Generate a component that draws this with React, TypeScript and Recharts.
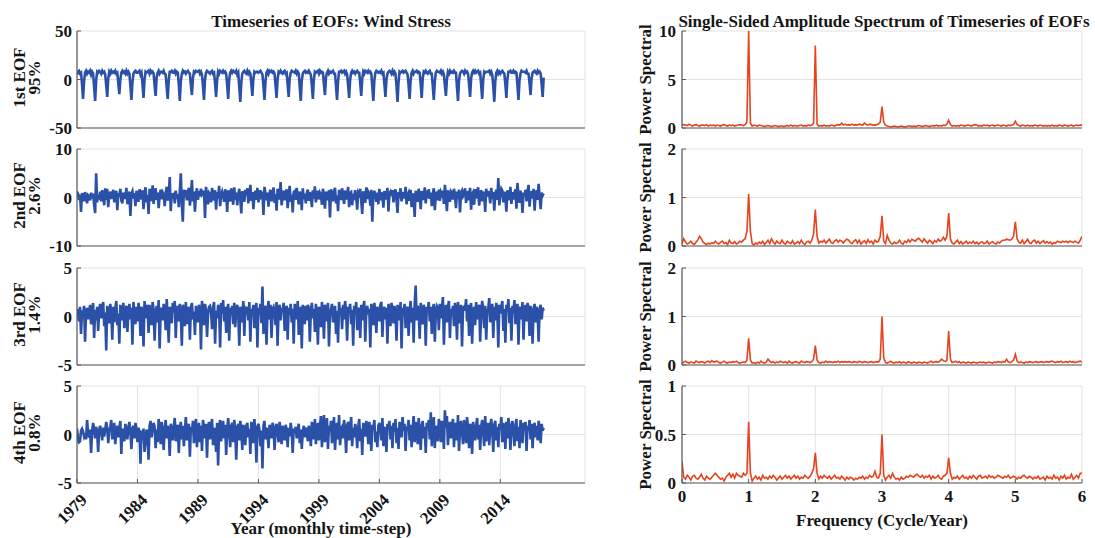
import React from 'react';
import { LineChart, Line, XAxis, YAxis, CartesianGrid } from 'recharts';

const FONT = '"Liberation Serif", "Times New Roman", Times, serif';
const BLUE = '#2b50a8';
const RED = '#e6431f';
const BOX = '#5a5a5a';
const GRID = '#e2e2e2';

// ---------- data ----------
const START_YEAR = 1979;
const yearTicks = [1979, 1984, 1989, 1994, 1999, 2004, 2009, 2014];
const freqTicks = [0, 1, 2, 3, 4, 5, 6];
const BINS_PER_CYCLE = 38; // spectral bins per cycle/year

const eofLabels = [
  ['1st EOF', '95%'],
  ['2nd EOF', '2.6%'],
  ['3rd EOF', '1.4%'],
  ['4th EOF', '0.8%'],
];

// monthly values, one row per year (1979 ... 2017)
const eof1 = [
  5, 8, 9, 6, 7, -5, -20, -2, 7, 9, 6, 8,
  7, 9, 5, 8, 6, -8, -22, -1, 8, 7, 9, 8,
  6, 9, 7, 8, 5, -6, -18, 1, 8, 6, 9, 7,
  8, 7, 9, 6, 7, -4, -15, 0, 7, 9, 7, 8,
  6, 9, 6, 8, 6, -7, -21, -3, 6, 8, 9, 7,
  7, 8, 9, 5, 7, -5, -19, 0, 8, 7, 8, 9,
  6, 9, 7, 8, 6, -6, -17, 2, 7, 9, 6, 8,
  8, 7, 9, 6, 5, -8, -20, -1, 8, 8, 9, 7,
  7, 9, 6, 8, 7, -5, -22, -2, 6, 9, 7, 8,
  6, 8, 9, 7, 6, -6, -16, 1, 8, 7, 9, 8,
  8, 9, 6, 8, 5, -7, -21, 0, 7, 9, 8, 7,
  6, 8, 9, 6, 7, -4, -18, -1, 8, 6, 9, 8,
  7, 9, 7, 8, 6, -6, -20, 0, 7, 9, 7, 9,
  8, 7, 9, 5, 7, -8, -23, -3, 6, 8, 9, 7,
  6, 9, 6, 8, 6, -5, -17, 1, 8, 7, 8, 8,
  7, 8, 9, 7, 5, -7, -21, -2, 7, 9, 6, 9,
  8, 9, 7, 8, 6, -6, -19, 0, 8, 7, 9, 7,
  6, 8, 9, 6, 7, -5, -18, 1, 7, 9, 8, 8,
  7, 9, 6, 8, 6, -8, -22, -1, 6, 8, 9, 7,
  8, 7, 9, 7, 5, -6, -20, 0, 8, 7, 8, 9,
  6, 9, 7, 8, 7, -5, -16, 2, 7, 9, 6, 8,
  7, 8, 9, 6, 6, -7, -21, -2, 8, 8, 9, 7,
  8, 9, 6, 8, 5, -6, -19, 0, 7, 9, 7, 8,
  6, 8, 9, 7, 7, -4, -17, 1, 8, 6, 9, 8,
  7, 9, 7, 8, 6, -8, -22, -1, 7, 9, 8, 7,
  8, 7, 9, 6, 7, -5, -18, 0, 6, 8, 9, 8,
  6, 9, 6, 8, 6, -7, -23, -3, 8, 7, 8, 9,
  7, 8, 9, 7, 5, -6, -20, -1, 7, 9, 6, 8,
  8, 9, 7, 8, 7, -5, -19, 1, 8, 7, 9, 7,
  6, 8, 9, 6, 6, -7, -21, -2, 7, 9, 8, 8,
  7, 9, 6, 8, 5, -6, -17, 0, 8, 6, 9, 7,
  8, 7, 9, 7, 7, -8, -22, -1, 6, 8, 9, 8,
  6, 9, 7, 8, 6, -5, -18, 1, 7, 9, 7, 9,
  7, 8, 9, 6, 7, -6, -20, 0, 8, 7, 8, 8,
  8, 9, 6, 8, 5, -7, -23, -2, 7, 9, 6, 8,
  6, 8, 9, 7, 6, -5, -19, 0, 8, 8, 9, 7,
  7, 9, 7, 8, 7, -6, -21, -1, 6, 9, 8, 8,
  8, 7, 9, 6, 6, -4, -16, 1, 7, 8, 9, 7,
  6, 9, 7, 8, 6, -5, -18, 2,
];

const eof2 = [
  1.2, 0.8, -0.5, 0.6, -3.0, 0.9, 0.4, -0.8, 1.1, 0.2, -1.2, 0.5,
  0.3, -0.6, 1.0, -0.2, 0.8, -1.5, -3.2, 5.0, -1.0, 0.6, -0.4, 1.2,
  -0.8, 1.5, 0.4, -1.6, 1.9, -0.5, 1.8, -2.0, 0.6, 1.2, -0.3, 0.8,
  1.6, -1.0, 0.5, 1.4, -2.6, 0.9, 0.2, 1.8, -0.6, -1.2, 1.0, 0.4,
  -0.3, 2.0, -1.4, 0.6, 1.2, -3.8, 0.8, 1.3, -0.2, 0.9, -1.8, 1.4,
  0.6, -0.9, 1.7, 0.3, -0.4, 1.5, -2.4, 0.7, 2.1, -1.0, 0.5, -3.4,
  1.8, 0.2, -0.7, 2.5, -1.3, 0.6, 1.9, -0.5, 1.0, -2.2, 0.4, 1.6,
  -0.4, 1.1, 0.7, -1.8, 0.9, 2.2, -0.6, 0.5, 4.2, -2.8, 0.8, 0.3,
  0.6, -1.2, 1.4, -0.3, 0.7, -2.0, 1.2, 5.0, -1.5, -5.0, 1.6, 0.8,
  1.5, -0.6, 0.9, 2.0, -1.7, 0.4, 3.6, -0.8, 1.2, -2.9, 0.7, 1.9,
  -0.5, 1.3, 0.2, 1.8, 0.6, 0.9, 1.4, -4.2, 2.2, 0.3, -1.4, 1.0,
  0.7, -1.0, 2.0, 0.4, -0.6, 1.5, -2.5, 1.1, -0.2, 2.4, -1.8, 0.5,
  1.2, 0.3, -0.9, 1.7, 0.8, -3.0, 1.5, 0.2, -0.8, 1.9, 0.6, -1.5,
  2.1, -0.4, 1.0, -1.6, 0.5, 1.8, -0.3, -3.3, 1.3, 0.7, -0.9, 1.6,
  0.4, 1.9, -1.2, 0.8, 2.6, -0.7, 1.1, -2.4, 0.3, 1.4, -0.5, 2.0,
  -1.0, 0.6, 1.5, -0.4, 1.2, -3.6, 2.2, 0.8, -0.6, 1.0, -1.9, 0.9,
  1.6, -0.8, 0.4, 2.1, -1.1, 0.7, -2.7, 1.8, 0.5, -0.4, 3.2, -1.6,
  0.2, 1.4, -0.6, 0.9, 1.7, -2.2, 0.3, 2.4, -0.9, 0.6, -3.1, 1.1,
  1.3, -0.5, 2.0, 0.1, -1.4, 1.2, 0.6, -2.6, 1.9, -0.3, 0.8, -1.2,
  0.9, 1.6, -0.7, 1.1, 0.4, -2.0, 1.5, -0.2, 2.3, -1.0, 0.5, 1.4,
  -0.4, 1.0, 0.6, -1.5, 1.8, 0.2, -2.3, 1.2, 0.7, -0.6, 1.5, -4.1,
  1.7, 0.5, -0.8, 1.3, 2.0, -1.2, 0.4, -2.8, 1.6, 0.3, -0.5, 1.9,
  0.6, -1.3, 1.4, 0.8, -0.4, 2.2, -2.0, 0.9, 1.1, -1.6, 0.7, 0.2,
  1.5, 0.1, -2.5, 1.0, 0.6, 1.8, -0.7, -3.4, 1.3, 0.4, -1.1, 2.1,
  -0.3, 1.2, 0.8, -1.7, 1.6, -5.0, 0.6, 1.4, 0.5, -0.9, 1.0, -1.4,
  1.8, -0.6, 1.1, 0.4, -2.1, 1.3, 0.7, -0.4, 2.0, -2.9, 0.8, 1.2,
  0.3, 1.5, -1.0, 0.9, 1.7, -0.5, -3.2, 1.1, 0.6, 1.9, -0.8, 0.4,
  1.1, -0.2, 2.2, -1.4, 0.5, 1.0, -0.7, 1.6, -2.0, 0.8, 0.3, -4.0,
  1.4, 0.6, -0.9, 1.8, 0.2, -2.4, 1.3, 0.7, -0.5, 2.1, -1.2, 0.9,
  0.5, 1.7, -0.3, 1.0, -1.8, 0.8, 1.9, -2.6, 0.4, 1.2, -0.6, 1.6,
  -0.7, 1.1, 0.6, 1.4, -1.3, 2.6, 0.3, -2.8, 1.5, 0.2, -0.9, 1.3,
  1.0, -0.4, 1.8, 0.5, -2.2, 1.2, -0.2, 1.6, -3.1, 0.9, 1.4, 0.3,
  0.8, 1.9, -1.1, 0.6, 1.3, -0.6, 2.0, -2.5, 0.7, 1.1, -1.5, 1.7,
  -0.2, 1.0, 2.1, -1.7, 0.4, 1.5, -0.8, 1.2, 0.6, -3.0, 1.8, 0.2,
  1.3, 0.5, -1.2, 2.0, -0.3, 1.1, -2.7, 0.8, 1.6, -0.5, 4.0, -1.6,
  0.6, 1.8, 1.4, -1.0, 1.2, 0.3, -2.9, 1.5, 0.7, -0.6, 2.2, -1.3,
  1.1, -0.4, 0.9, 1.7, -2.3, 3.0, 0.5, -1.1, 1.4, 0.2, -3.2, 1.0,
  0.4, 1.6, -0.8, 1.2, 2.6, -1.9, 0.7, 1.3, -0.2, 1.8, -2.7, 0.6,
  1.5, -0.5, 2.8, 0.3, -2.4, 1.0, 0.4, 0.8,
];

const eof3 = [
  0.8, 0.3, -0.5, 1.0, -1.8, 0.6, 0.2, 1.1, -2.6, 0.4, 0.9, -0.3,
  0.5, 1.2, -0.8, 0.3, 1.4, -2.2, 0.7, -0.4, 1.0, -1.5, 0.6, 1.3,
  -0.2, 0.9, 1.5, -1.0, 0.4, -3.5, 1.1, 0.2, -0.7, 1.3, 0.5, -2.4,
  1.0, -0.6, 0.8, 1.6, -0.9, 0.3, -2.8, 1.2, 0.6, -0.4, 1.4, -1.2,
  0.7, 1.1, -1.6, 0.5, 1.3, -0.3, 0.9, -2.9, 1.5, 0.2, -0.8, 1.0,
  -0.5, 1.4, 0.6, -2.0, 1.0, 0.4, -3.1, 1.6, -0.2, 0.8, 1.2, -1.7,
  1.2, 0.1, -0.9, 1.5, 0.7, -2.5, 0.3, 1.1, -0.6, 1.7, -3.3, 0.6,
  0.9, -0.4, 1.3, 0.5, -1.4, 1.8, -0.1, -2.7, 1.0, 0.6, -0.7, 1.4,
  0.4, 1.6, -2.2, 0.8, 1.1, -0.5, 1.3, 0.2, -3.0, 1.2, 0.7, -1.0,
  1.5, -0.8, 0.6, 1.0, -2.4, 0.9, 1.4, -0.3, 0.5, -1.9, 1.1, 0.3,
  -0.6, 1.2, 0.8, -3.4, 1.6, 0.4, -0.9, 1.3, 0.7, -2.1, 0.2, 1.0,
  1.1, 0.5, -1.3, 0.9, 1.5, -2.8, 0.6, -0.2, 1.2, 0.8, -3.2, 1.4,
  0.3, 1.7, -0.5, 1.0, -1.7, 0.6, 1.3, -2.5, 0.9, 0.4, 1.1, -0.8,
  1.4, -1.1, 0.7, 1.2, 0.2, -3.0, 1.0, 0.5, -0.6, 1.6, -2.0, 0.8,
  0.6, 1.0, -0.4, 1.5, -2.6, 0.8, 0.3, 1.2, -1.2, 0.7, 1.4, -3.2,
  0.9, 0.4, 1.3, -0.7, 3.1, -1.8, 0.6, 1.1, -2.9, 0.5, 1.6, -0.3,
  1.2, -2.2, 0.8, 1.0, 0.3, -0.9, 1.5, -3.0, 0.7, 1.2, -0.4, 0.9,
  0.5, 1.4, -1.5, 0.6, 1.1, -2.4, 0.9, 0.2, 1.3, -0.6, 0.8, -2.8,
  1.3, 0.7, -0.3, 1.6, -1.9, 0.4, 1.0, -3.3, 1.2, 0.6, -0.8, 1.1,
  -0.4, 1.2, 0.9, -2.6, 0.5, 1.4, -0.2, 0.8, -1.6, 1.3, 0.3, -2.9,
  1.0, 0.6, -1.1, 1.5, 0.2, -2.3, 1.2, 0.7, -0.5, 1.4, -3.1, 0.4,
  0.8, 1.3, -0.6, 0.4, 1.1, -1.8, 0.6, -2.7, 1.5, 0.3, 0.9, -1.3,
  1.2, -0.3, 1.6, 0.5, -2.5, 1.0, 0.4, 1.3, -0.8, 0.7, -3.0, 1.1,
  0.3, 1.5, -1.4, 0.9, 0.6, -2.2, 1.2, -0.4, 1.0, 1.6, -2.6, 0.5,
  1.1, 0.2, 0.8, -3.2, 1.3, 0.7, -0.9, 1.4, 0.4, -1.7, 1.0, 0.6,
  -0.5, 1.2, 1.5, -2.1, 0.6, 1.0, -0.3, 0.9, -2.8, 1.3, 0.5, -1.0,
  1.4, 0.8, -0.7, 1.1, 0.3, -2.5, 1.2, 0.6, -0.4, 1.5, -3.3, 0.9,
  0.5, 1.3, -1.2, 0.7, 1.0, -2.0, 0.4, 1.6, -0.6, 0.9, -2.7, 1.2,
  3.2, -0.4, 1.1, 0.6, -2.3, 1.4, 0.3, -0.8, 1.2, 0.7, -3.0, 1.0,
  0.6, 1.5, -0.5, 1.0, -1.8, 0.8, 1.3, -2.6, 0.4, 1.1, 0.9, -1.4,
  1.3, -0.2, 0.7, 2.0, -2.9, 0.5, 1.2, -0.6, 1.0, 1.6, -2.2, 0.8,
  0.4, 1.1, -1.0, 1.4, 0.6, -2.4, 1.5, 0.2, -0.7, 1.2, -3.1, 0.9,
  1.0, 0.6, 1.8, -0.5, 1.2, -2.0, 0.7, 1.4, -2.8, 0.3, 1.0, -0.9,
  1.5, -0.3, 0.9, 1.2, -2.6, 0.4, 1.6, 0.7, -1.2, 1.1, -2.4, 0.5,
  0.8, 1.9, -0.6, 0.5, 1.3, -2.2, 1.0, -0.4, 1.4, 0.6, -3.2, 1.2,
  0.3, 1.0, 1.6, -1.5, 0.8, -2.7, 1.2, 0.5, 1.8, -0.7, 0.9, -2.5,
  1.1, 0.4, 1.7, -0.8, 0.6, 1.3, -2.9, 0.7, 1.0, -0.3, 1.5, -2.4,
  0.6, 1.2, -0.5, 1.4, 0.9, -2.0, 1.1, 0.3, -2.8, 0.8, 1.3, -0.6,
  1.0, 0.4, -2.6, 0.8, 1.2, -0.3, 0.9, 0.6,
];

const eof4 = [
  0.6, -0.5, -0.8, -0.7, 0.4, 0.6, 0.3, -0.2, 0.1, -0.5, 1.5, 0.2,
  -0.3, 0.5, -1.9, 0.4, 1.2, 0.6, -0.4, 0.8, 0.2, -1.8, 0.5, 0.9,
  0.3, -0.6, 0.7, -0.2, 0.5, 1.3, 0.6, -0.9, 0.4, 0.8, 1.5, -0.5,
  0.2, 1.2, -1.0, 0.5, 0.9, -0.3, 0.7, 1.4, -2.0, 0.6, 0.3, -0.7,
  1.1, 0.4, -0.5, 0.8, 1.3, 0.2, -1.5, 0.6, 0.9, -0.4, 1.2, 0.5,
  -0.8, 0.7, 0.3, -3.0, 0.4, -0.5, 0.6, -1.8, -0.9, 0.5, 0.2, -2.6,
  0.9, 1.4, -0.3, 0.6, 1.2, 0.8, -1.4, 0.5, -0.8, 1.6, 0.4, -1.0,
  1.3, 0.2, -1.6, 0.7, 1.5, -0.4, 0.9, 0.3, -2.2, 1.1, 0.6, -0.6,
  0.8, 1.7, -0.7, 0.4, 1.0, -1.9, 0.6, 1.3, -0.5, 0.9, -1.2, 0.4,
  1.8, -0.6, 0.5, 1.1, -2.3, 0.8, 0.2, 1.4, -0.9, 0.7, 1.6, -1.3,
  0.4, 1.2, -0.8, 0.9, -1.7, 1.5, 0.6, -0.4, 1.1, -2.4, 0.8, 1.3,
  -0.5, 0.9, 1.6, -1.1, 0.7, 0.3, -1.8, 1.2, -3.2, 0.6, 1.5, -0.7,
  0.8, 1.4, -0.4, 1.0, -2.1, 0.5, 1.7, 0.2, -1.3, 0.9, 1.2, -0.8,
  1.5, 0.3, -2.6, 0.8, 1.1, -0.6, 1.4, 0.5, -1.6, 1.0, 0.4, -1.1,
  0.9, 1.2, -0.3, 0.6, -2.0, 1.3, 0.7, -0.9, 1.6, 0.2, -2.9, 0.8,
  1.1, 0.5, -1.2, 0.4, -3.5, 0.9, 1.4, -0.5, 0.7, 0.3, -1.4, 1.0,
  0.6, -0.4, 1.2, 0.8, -1.6, 0.5, 1.1, 0.2, -0.8, 1.3, 0.4, -1.0,
  0.9, 0.3, -0.6, 1.0, 0.5, -1.3, 0.7, -0.2, 1.2, 0.4, -1.9, 0.6,
  0.2, 0.8, -0.4, 0.6, 1.1, -0.9, 0.5, -1.5, 0.3, 0.9, -0.3, 0.7,
  0.4, -0.7, 0.9, 0.2, -1.2, 1.3, 0.6, -0.5, 1.6, -1.0, 0.4, 1.2,
  -0.6, 0.8, 1.9, -1.3, 0.5, 2.0, -0.8, 0.6, 1.7, -1.5, 0.9, 0.3,
  1.4, -0.9, 0.7, 1.8, -1.6, 0.4, 1.2, -0.5, 2.0, -1.1, 0.6, 0.8,
  -0.4, 1.5, 0.3, -1.9, 0.9, 1.3, -0.6, 0.5, 1.8, -1.2, 0.7, -0.3,
  1.1, 0.4, -1.4, 0.8, 1.6, -0.7, 0.6, -2.1, 1.2, 0.5, -0.2, 1.4,
  0.7, -1.0, 1.3, 0.4, -1.7, 1.0, 0.6, 1.5, -0.8, 0.3, -1.3, 0.9,
  1.2, 0.5, -0.6, 1.7, -1.2, 0.8, 0.4, -1.8, 1.1, 0.6, 1.4, -0.5,
  0.9, -1.4, 1.2, 0.3, 1.6, -0.9, 0.7, -1.5, 1.3, 0.5, -0.3, 1.8,
  0.4, 1.1, -1.7, 0.8, 0.5, 1.5, -0.6, 1.0, -1.3, 0.7, 1.9, -0.8,
  1.3, 0.6, -1.0, 1.7, 0.3, -1.6, 0.9, 1.4, -0.4, 0.8, -1.9, 1.2,
  0.7, 1.5, -0.5, 2.3, -1.2, 0.6, 1.8, -1.4, 0.9, 0.4, -0.7, 1.6,
  1.0, -0.8, 1.4, 0.5, -1.5, 2.5, 0.7, 1.9, -1.1, 0.6, 1.3, -0.4,
  0.8, 1.6, -1.3, 0.9, 1.2, -0.6, 2.0, -1.7, 0.5, 1.4, 0.3, -1.0,
  1.5, 0.4, -0.9, 1.8, 0.6, -1.4, 1.1, 0.7, -2.0, 1.3, 0.5, -0.6,
  0.9, 1.7, -0.5, 1.0, -1.6, 0.8, 1.5, 0.3, -1.2, 1.9, -0.7, 0.6,
  1.2, -1.1, 0.7, 1.6, 0.4, -1.8, 1.0, 1.4, -0.6, 0.8, -1.3, 1.1,
  0.5, 1.8, -0.8, 1.2, 0.6, -1.5, 1.3, -0.4, 1.7, 0.9, -1.6, 0.7,
  1.4, 0.3, -1.2, 1.0, 1.6, -0.7, 0.8, -1.4, 1.5, 0.6, -0.9, 1.2,
  0.6, 1.3, -1.7, 0.9, 0.4, 1.5, -0.5, 1.1, -1.4, 0.7, 1.2, -0.3,
  0.9, -0.6, 1.4, 0.5, -0.9, 1.1, 0.4, 0.7,
];

// amplitude spectra, bins of 1/38 cycle/year from 0 to 6 (19 bins per row)
const spec1 = [
  0.3, 0.35, 0.3, 0.25, 0.4, 0.3, 0.2, 0.3, 0.35, 0.25, 0.2, 0.3, 0.3, 0.25, 0.35, 0.2, 0.3, 0.25, 0.3,
  0.2, 0.3, 0.25, 0.2, 0.3, 0.35, 0.25, 0.2, 0.3, 0.25, 0.3, 0.2, 0.25, 0.3, 0.35, 0.3, 0.25, 0.35, 0.6,
  10, 0.5, 0.2, 0.3, 0.25, 0.2, 0.3, 0.25, 0.2, 0.15, 0.2, 0.25, 0.2, 0.15, 0.2, 0.25, 0.2, 0.15, 0.2,
  0.2, 0.15, 0.2, 0.25, 0.2, 0.3, 0.2, 0.25, 0.2, 0.2, 0.25, 0.3, 0.2, 0.25, 0.2, 0.3, 0.25, 0.3, 0.5,
  8.5, 0.4, 0.2, 0.25, 0.2, 0.3, 0.2, 0.25, 0.2, 0.3, 0.25, 0.2, 0.3, 0.35, 0.3, 0.5, 0.3, 0.4, 0.3,
  0.35, 0.3, 0.4, 0.3, 0.35, 0.3, 0.4, 0.35, 0.3, 0.5, 0.35, 0.3, 0.4, 0.35, 0.3, 0.3, 0.35, 0.4, 0.6,
  2.2, 0.6, 0.3, 0.2, 0.15, 0.1, 0.15, 0.2, 0.15, 0.1, 0.15, 0.2, 0.15, 0.1, 0.15, 0.2, 0.2, 0.15, 0.2,
  0.15, 0.2, 0.25, 0.2, 0.15, 0.2, 0.25, 0.2, 0.15, 0.2, 0.25, 0.2, 0.3, 0.2, 0.25, 0.2, 0.3, 0.25, 0.4,
  0.8, 0.35, 0.2, 0.25, 0.2, 0.25, 0.2, 0.3, 0.25, 0.2, 0.25, 0.3, 0.25, 0.2, 0.3, 0.35, 0.3, 0.2, 0.25,
  0.2, 0.3, 0.25, 0.3, 0.2, 0.25, 0.3, 0.2, 0.25, 0.3, 0.25, 0.2, 0.3, 0.25, 0.2, 0.3, 0.25, 0.3, 0.35,
  0.7, 0.35, 0.25, 0.2, 0.3, 0.25, 0.2, 0.3, 0.2, 0.25, 0.2, 0.3, 0.25, 0.2, 0.3, 0.25, 0.2, 0.25, 0.2,
  0.25, 0.2, 0.3, 0.2, 0.25, 0.2, 0.3, 0.25, 0.2, 0.3, 0.25, 0.2, 0.25, 0.3, 0.2, 0.25, 0.3, 0.25, 0.3,
  0.3,
];

const spec2 = [
  0.05, 0.15, 0.08, 0.04, 0.06, 0.1, 0.05, 0.03, 0.08, 0.12, 0.2, 0.15, 0.08, 0.05, 0.03, 0.06, 0.04, 0.07, 0.05,
  0.1, 0.06, 0.04, 0.08, 0.1, 0.05, 0.07, 0.03, 0.12, 0.06, 0.05, 0.09, 0.04, 0.06, 0.1, 0.08, 0.12, 0.15, 0.3,
  1.07, 0.3, 0.05, 0.02, 0.06, 0.04, 0.08, 0.05, 0.1, 0.03, 0.07, 0.12, 0.05, 0.15, 0.08, 0.04, 0.1, 0.06, 0.05,
  0.12, 0.06, 0.04, 0.1, 0.07, 0.05, 0.11, 0.04, 0.06, 0.09, 0.05, 0.12, 0.06, 0.03, 0.08, 0.1, 0.06, 0.12, 0.25,
  0.75, 0.2, 0.06, 0.1, 0.08, 0.12, 0.06, 0.1, 0.14, 0.07, 0.05, 0.1, 0.13, 0.08, 0.12, 0.1, 0.06, 0.11, 0.14,
  0.12, 0.07, 0.05, 0.1, 0.13, 0.06, 0.12, 0.04, 0.08, 0.11, 0.05, 0.13, 0.07, 0.1, 0.04, 0.12, 0.08, 0.1, 0.2,
  0.62, 0.1, 0.05, 0.22, 0.12, 0.06, 0.04, 0.08, 0.05, 0.07, 0.12, 0.06, 0.04, 0.1, 0.07, 0.13, 0.08, 0.14, 0.12,
  0.1, 0.14, 0.16, 0.12, 0.08, 0.15, 0.1, 0.06, 0.12, 0.09, 0.05, 0.11, 0.08, 0.14, 0.1, 0.12, 0.18, 0.12, 0.2,
  0.68, 0.15, 0.06, 0.04, 0.08, 0.12, 0.05, 0.09, 0.04, 0.07, 0.1, 0.05, 0.08, 0.06, 0.1, 0.05, 0.08, 0.04, 0.07,
  0.09, 0.05, 0.06, 0.1, 0.04, 0.07, 0.09, 0.06, 0.04, 0.08, 0.06, 0.1, 0.12, 0.12, 0.14, 0.13, 0.12, 0.14, 0.2,
  0.5, 0.15, 0.08, 0.06, 0.12, 0.05, 0.09, 0.14, 0.07, 0.05, 0.1, 0.12, 0.06, 0.1, 0.05, 0.08, 0.11, 0.06, 0.09,
  0.06, 0.08, 0.04, 0.07, 0.06, 0.1, 0.08, 0.07, 0.1, 0.08, 0.1, 0.07, 0.1, 0.09, 0.07, 0.1, 0.08, 0.06, 0.12,
  0.2,
];

const spec3 = [
  0.03, 0.06, 0.08, 0.05, 0.04, 0.06, 0.05, 0.04, 0.08, 0.06, 0.05, 0.07, 0.06, 0.04, 0.07, 0.08, 0.05, 0.09, 0.06,
  0.07, 0.08, 0.05, 0.04, 0.06, 0.08, 0.05, 0.04, 0.06, 0.05, 0.07, 0.06, 0.08, 0.05, 0.04, 0.05, 0.06, 0.05, 0.1,
  0.55, 0.1, 0.04, 0.05, 0.03, 0.06, 0.04, 0.08, 0.05, 0.04, 0.06, 0.12, 0.08, 0.05, 0.07, 0.04, 0.06, 0.05, 0.08,
  0.06, 0.05, 0.07, 0.04, 0.08, 0.05, 0.04, 0.06, 0.07, 0.05, 0.04, 0.08, 0.06, 0.05, 0.07, 0.06, 0.05, 0.07, 0.12,
  0.4, 0.1, 0.05, 0.04, 0.06, 0.05, 0.08, 0.05, 0.07, 0.06, 0.05, 0.07, 0.06, 0.08, 0.05, 0.07, 0.06, 0.07, 0.06,
  0.07, 0.06, 0.05, 0.07, 0.06, 0.05, 0.08, 0.06, 0.05, 0.07, 0.06, 0.05, 0.06, 0.07, 0.05, 0.06, 0.07, 0.06, 0.12,
  1.0, 0.15, 0.05, 0.04, 0.06, 0.08, 0.05, 0.04, 0.06, 0.05, 0.07, 0.04, 0.06, 0.05, 0.04, 0.07, 0.05, 0.04, 0.06,
  0.05, 0.04, 0.06, 0.05, 0.04, 0.06, 0.05, 0.04, 0.06, 0.08, 0.05, 0.06, 0.07, 0.06, 0.08, 0.12, 0.09, 0.07, 0.1,
  0.7, 0.12, 0.05, 0.06, 0.08, 0.05, 0.07, 0.04, 0.06, 0.05, 0.04, 0.06, 0.05, 0.04, 0.06, 0.05, 0.04, 0.05, 0.06,
  0.05, 0.06, 0.04, 0.05, 0.06, 0.05, 0.04, 0.06, 0.05, 0.07, 0.06, 0.05, 0.07, 0.06, 0.12, 0.06, 0.05, 0.07, 0.1,
  0.22, 0.08, 0.05, 0.06, 0.05, 0.04, 0.06, 0.05, 0.07, 0.06, 0.05, 0.06, 0.07, 0.05, 0.06, 0.07, 0.05, 0.06, 0.07,
  0.06, 0.07, 0.08, 0.06, 0.05, 0.07, 0.06, 0.08, 0.05, 0.06, 0.07, 0.05, 0.08, 0.06, 0.07, 0.05, 0.06, 0.07, 0.08,
  0.06,
];

const spec4 = [
  0.22, 0.06, 0.04, 0.08, 0.06, 0.03, 0.07, 0.08, 0.05, 0.04, 0.06, 0.09, 0.05, 0.03, 0.07, 0.05, 0.04, 0.06, 0.08,
  0.1, 0.08, 0.06, 0.04, 0.05, 0.02, 0.06, 0.08, 0.1, 0.06, 0.09, 0.05, 0.1, 0.08, 0.07, 0.06, 0.1, 0.08, 0.1,
  0.63, 0.1, 0.02, 0.05, 0.07, 0.04, 0.06, 0.03, 0.08, 0.05, 0.06, 0.04, 0.07, 0.05, 0.08, 0.06, 0.03, 0.05, 0.07,
  0.04, 0.06, 0.08, 0.05, 0.07, 0.04, 0.06, 0.08, 0.05, 0.07, 0.04, 0.06, 0.05, 0.08, 0.06, 0.05, 0.07, 0.1, 0.15,
  0.31, 0.1, 0.04, 0.07, 0.05, 0.08, 0.06, 0.05, 0.07, 0.04, 0.06, 0.08, 0.05, 0.06, 0.04, 0.07, 0.05, 0.03, 0.06,
  0.04, 0.06, 0.05, 0.03, 0.05, 0.04, 0.06, 0.05, 0.07, 0.04, 0.06, 0.05, 0.08, 0.06, 0.07, 0.12, 0.06, 0.05, 0.1,
  0.5, 0.08, 0.03, 0.06, 0.08, 0.05, 0.1, 0.06, 0.04, 0.05, 0.03, 0.06, 0.04, 0.05, 0.07, 0.06, 0.08, 0.07, 0.06,
  0.08, 0.09, 0.07, 0.06, 0.08, 0.05, 0.07, 0.06, 0.08, 0.04, 0.07, 0.05, 0.06, 0.08, 0.05, 0.04, 0.07, 0.08, 0.1,
  0.26, 0.1, 0.04, 0.06, 0.05, 0.07, 0.04, 0.06, 0.08, 0.05, 0.06, 0.04, 0.07, 0.05, 0.08, 0.06, 0.04, 0.07, 0.08,
  0.05, 0.06, 0.07, 0.05, 0.08, 0.06, 0.07, 0.05, 0.06, 0.08, 0.07, 0.06, 0.05, 0.07, 0.06, 0.08, 0.05, 0.06, 0.07,
  0.06, 0.04, 0.06, 0.05, 0.07, 0.08, 0.06, 0.05, 0.07, 0.06, 0.04, 0.06, 0.05, 0.07, 0.04, 0.05, 0.06, 0.03, 0.07,
  0.05, 0.06, 0.04, 0.08, 0.05, 0.06, 0.03, 0.07, 0.05, 0.08, 0.04, 0.06, 0.05, 0.09, 0.04, 0.06, 0.08, 0.05, 0.1,
  0.1,
];

const tsDomains = [[-50, 50], [-10, 10], [-5, 5], [-5, 5]];
const tsTicks = [[-50, 0, 50], [-10, 0, 10], [-5, 0, 5], [-5, 0, 5]];
const specDomains = [[0, 10], [0, 2], [0, 2], [0, 1]];
const specTicks = [[0, 5, 10], [0, 1, 2], [0, 1, 2], [0, 0.5, 1]];

const toSeries = (vals: number[]) => vals.map((v, i) => ({ x: START_YEAR + i / 12, v }));
const toSpectrum = (vals: number[]) => vals.map((v, i) => ({ x: i / BINS_PER_CYCLE, v }));

const tsData = [eof1, eof2, eof3, eof4].map(toSeries);
const specData = [spec1, spec2, spec3, spec4].map(toSpectrum);

// ---------- layout ----------
const PANEL_TOPS = [31, 149, 268, 386];
const PLOT_H = 97;
const TOP_PAD = 14;
const FS = 17;

const tickFont = { fill: '#151515', fontSize: FS, fontWeight: 'bold', fontFamily: FONT };

const YearTick = (props: any) => {
  const { x, y, payload } = props;
  const ex = x + 11;
  const ey = y + 13;
  return (
    <text
      x={ex}
      y={ey}
      transform={`rotate(-45 ${ex} ${ey})`}
      textAnchor="end"
      fill="#151515"
      fontSize={FS}
      fontWeight="bold"
      fontFamily={FONT}
    >
      {payload.value}
    </text>
  );
};

type PanelProps = {
  left: number;
  top: number;
  width: number;
  yAxisWidth: number;
  rightMargin: number;
  data: { x: number; v: number }[];
  xDomain: number[];
  xTicks: number[];
  yDomain: number[];
  yTicks: number[];
  color: string;
  strokeWidth: number;
  xAxisHeight: number;
  xTick: any;
  xTickMargin: number;
  yTickMargin: number;
};

function Panel(p: PanelProps) {
  const height = TOP_PAD + PLOT_H + p.xAxisHeight;
  return (
    <div style={{ position: 'absolute', left: p.left, top: p.top - TOP_PAD }}>
      <LineChart
        width={p.width}
        height={height}
        data={p.data}
        margin={{ top: TOP_PAD, right: p.rightMargin, bottom: 0, left: 0 }}
      >
        <CartesianGrid xAxisId="b" yAxisId="l" stroke={GRID} strokeWidth={1} />
        <XAxis
          xAxisId="b"
          dataKey="x"
          type="number"
          domain={p.xDomain}
          ticks={p.xTicks}
          allowDataOverflow
          interval={0}
          height={p.xAxisHeight}
          axisLine={{ stroke: BOX, strokeWidth: 1.2 }}
          tickLine={{ stroke: BOX }}
          tickSize={-4}
          tickMargin={p.xTickMargin}
          tick={p.xTick}
        />
        <XAxis
          xAxisId="t"
          orientation="top"
          dataKey="x"
          type="number"
          domain={p.xDomain}
          ticks={p.xTicks}
          allowDataOverflow
          interval={0}
          height={0}
          axisLine={{ stroke: BOX, strokeWidth: 1.2 }}
          tickLine={{ stroke: BOX }}
          tickSize={-4}
          tick={false}
        />
        <YAxis
          yAxisId="l"
          type="number"
          domain={p.yDomain}
          ticks={p.yTicks}
          allowDataOverflow
          interval={0}
          width={p.yAxisWidth}
          axisLine={{ stroke: BOX, strokeWidth: 1.2 }}
          tickLine={{ stroke: BOX }}
          tickSize={-4}
          tickMargin={p.yTickMargin}
          tick={tickFont}
        />
        <YAxis
          yAxisId="r"
          orientation="right"
          type="number"
          domain={p.yDomain}
          ticks={p.yTicks}
          allowDataOverflow
          interval={0}
          width={0}
          axisLine={{ stroke: BOX, strokeWidth: 1.2 }}
          tickLine={{ stroke: BOX }}
          tickSize={-4}
          tick={false}
        />
        <Line
          xAxisId="b"
          yAxisId="l"
          dataKey="v"
          type="linear"
          stroke={p.color}
          strokeWidth={p.strokeWidth}
          dot={false}
          isAnimationActive={false}
        />
      </LineChart>
    </div>
  );
}

export default function App() {
  const textStyle = { fontFamily: FONT, fontWeight: 'bold', fontSize: FS, fill: '#151515' } as any;
  return (
    <div
      style={{
        position: 'absolute',
        left: 0,
        top: 0,
        width: 1095,
        height: 538,
        background: '#ffffff',
        overflow: 'hidden',
      }}
    >
      {tsData.map((d, i) => (
        <Panel
          key={`ts${i}`}
          left={0}
          top={PANEL_TOPS[i]}
          width={600}
          yAxisWidth={77}
          rightMargin={15}
          data={d}
          xDomain={[1979, 2021]}
          xTicks={yearTicks}
          yDomain={tsDomains[i]}
          yTicks={tsTicks[i]}
          color={BLUE}
          strokeWidth={2.6}
          xAxisHeight={i === 3 ? 52 : 20}
          xTick={i === 3 ? <YearTick /> : false}
          xTickMargin={9}
          yTickMargin={9}
        />
      ))}
      {specData.map((d, i) => (
        <Panel
          key={`sp${i}`}
          left={600}
          top={PANEL_TOPS[i]}
          width={495}
          yAxisWidth={82}
          rightMargin={13}
          data={d}
          xDomain={[0, 6]}
          xTicks={freqTicks}
          yDomain={specDomains[i]}
          yTicks={specTicks[i]}
          color={RED}
          strokeWidth={1.6}
          xAxisHeight={i === 3 ? 32 : 20}
          xTick={i === 3 ? tickFont : false}
          xTickMargin={11}
          yTickMargin={10}
        />
      ))}
      <svg
        width={1095}
        height={538}
        style={{ position: 'absolute', left: 0, top: 0, pointerEvents: 'none' }}
      >
        <text x={331} y={27} textAnchor="middle" style={textStyle}>
          Timeseries of EOFs: Wind Stress
        </text>
        <text x={884} y={27} textAnchor="middle" style={textStyle}>
          Single-Sided Amplitude Spectrum of Timeseries of EOFs
        </text>
        {eofLabels.map((lbl, i) => {
          const cy = PANEL_TOPS[i] + PLOT_H / 2 - 2;
          return (
            <g key={`yl${i}`}>
              <text x={25} y={cy} transform={`rotate(-90 25 ${cy})`} textAnchor="middle" style={textStyle}>
                {lbl[0]}
              </text>
              <text x={40} y={cy} transform={`rotate(-90 40 ${cy})`} textAnchor="middle" style={textStyle}>
                {lbl[1]}
              </text>
            </g>
          );
        })}
        {PANEL_TOPS.map((t, i) => {
          const cy = t + PLOT_H / 2;
          return (
            <text
              key={`ps${i}`}
              x={651}
              y={cy}
              transform={`rotate(-90 651 ${cy})`}
              textAnchor="middle"
              style={textStyle}
            >
              Power Spectral
            </text>
          );
        })}
        <text x={321} y={534} textAnchor="middle" style={textStyle}>
          Year (monthly time-step)
        </text>
        <text x={882} y={526} textAnchor="middle" style={textStyle}>
          Frequency (Cycle/Year)
        </text>
      </svg>
    </div>
  );
}
